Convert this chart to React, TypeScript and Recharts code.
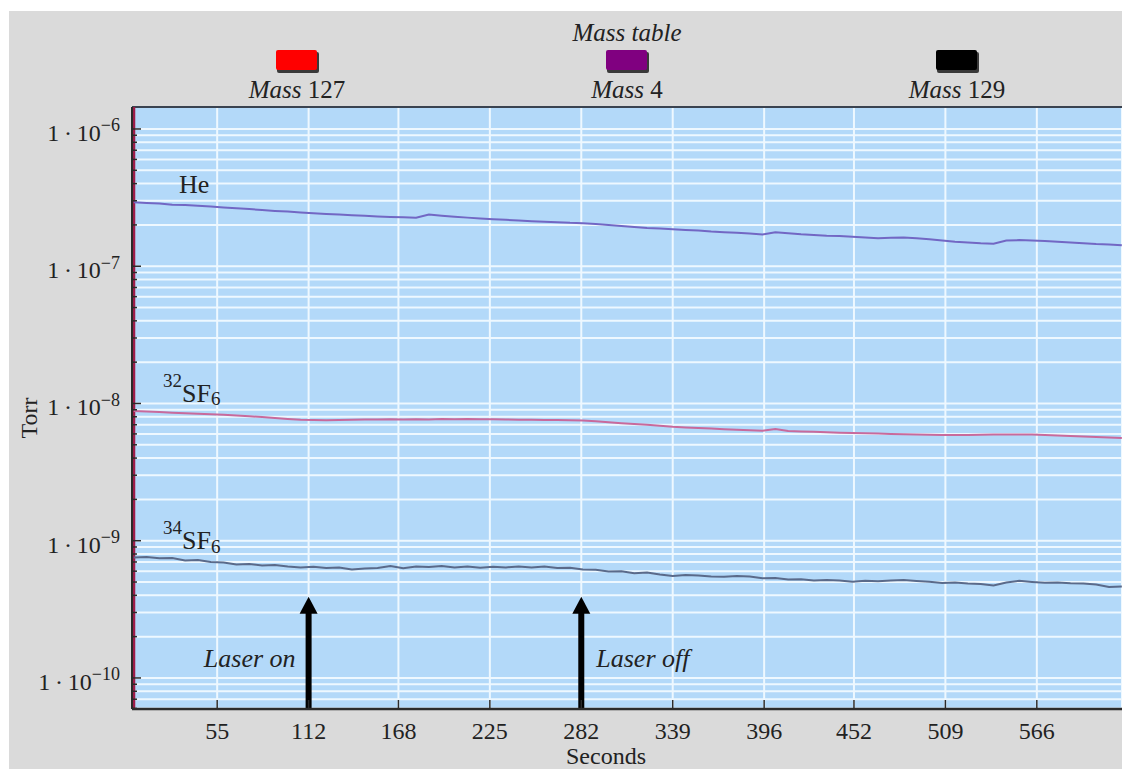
import React from 'react';
import { LineChart, Line, XAxis, YAxis, CartesianGrid, ReferenceLine, ReferenceDot } from 'recharts';

const FONT = "'Liberation Serif', 'Times New Roman', serif";
const CHART_W = 1113;
const CHART_H = 758;
const PLOT_LEFT = 123;
const PLOT_TOP = 96;
const PLOT_BOTTOM = 698;

// ---- data ----
const timeSec = [3, 11, 19, 27, 35, 43, 51, 59, 67, 75, 83, 91, 99, 107, 115, 123, 131, 139, 147, 155, 163, 171, 179, 187, 195, 203, 211, 219, 227, 235, 243, 251, 259, 267, 275, 283, 291, 299, 307, 315, 323, 331, 339, 347, 355, 363, 371, 379, 387, 395, 403, 411, 419, 427, 435, 443, 451, 459, 467, 475, 483, 491, 499, 507, 515, 523, 531, 539, 547, 555, 563, 571, 579, 587, 595, 603, 611, 619];

// Mass 4 (He)
const heTorr = [2.93e-7, 2.89e-7, 2.86e-7, 2.81e-7, 2.79e-7, 2.76e-7, 2.72e-7, 2.68e-7, 2.65e-7, 2.61e-7,
  2.57e-7, 2.53e-7, 2.50e-7, 2.46e-7, 2.43e-7, 2.40e-7, 2.38e-7, 2.35e-7, 2.33e-7, 2.30e-7,
  2.28e-7, 2.27e-7, 2.26e-7, 2.38e-7, 2.33e-7, 2.29e-7, 2.26e-7, 2.23e-7, 2.20e-7, 2.18e-7,
  2.15e-7, 2.13e-7, 2.11e-7, 2.09e-7, 2.07e-7, 2.06e-7, 2.03e-7, 2.00e-7, 1.96e-7, 1.93e-7,
  1.90e-7, 1.88e-7, 1.86e-7, 1.84e-7, 1.82e-7, 1.79e-7, 1.77e-7, 1.75e-7, 1.73e-7, 1.70e-7,
  1.77e-7, 1.74e-7, 1.71e-7, 1.69e-7, 1.67e-7, 1.66e-7, 1.64e-7, 1.62e-7, 1.60e-7, 1.61e-7,
  1.62e-7, 1.60e-7, 1.57e-7, 1.54e-7, 1.51e-7, 1.49e-7, 1.47e-7, 1.46e-7, 1.54e-7, 1.55e-7,
  1.54e-7, 1.53e-7, 1.51e-7, 1.49e-7, 1.47e-7, 1.45e-7, 1.44e-7, 1.42e-7];

// Mass 127 (32SF6)
const sf6m32Torr = [8.82e-9, 8.74e-9, 8.67e-9, 8.56e-9, 8.48e-9, 8.40e-9, 8.34e-9, 8.27e-9, 8.18e-9, 8.07e-9,
  7.96e-9, 7.84e-9, 7.72e-9, 7.62e-9, 7.57e-9, 7.54e-9, 7.58e-9, 7.61e-9, 7.64e-9, 7.64e-9,
  7.67e-9, 7.64e-9, 7.68e-9, 7.65e-9, 7.69e-9, 7.67e-9, 7.71e-9, 7.68e-9, 7.67e-9, 7.64e-9,
  7.62e-9, 7.61e-9, 7.58e-9, 7.57e-9, 7.54e-9, 7.52e-9, 7.42e-9, 7.30e-9, 7.19e-9, 7.10e-9,
  6.99e-9, 6.89e-9, 6.76e-9, 6.68e-9, 6.63e-9, 6.57e-9, 6.50e-9, 6.44e-9, 6.39e-9, 6.33e-9,
  6.52e-9, 6.30e-9, 6.25e-9, 6.21e-9, 6.17e-9, 6.13e-9, 6.10e-9, 6.06e-9, 6.03e-9, 6.00e-9,
  5.97e-9, 5.94e-9, 5.91e-9, 5.89e-9, 5.88e-9, 5.89e-9, 5.91e-9, 5.93e-9, 5.94e-9, 5.94e-9,
  5.94e-9, 5.90e-9, 5.85e-9, 5.80e-9, 5.75e-9, 5.69e-9, 5.64e-9, 5.60e-9];

// Mass 129 (34SF6)
const sf6m34Torr = [7.55e-10, 7.61e-10, 7.45e-10, 7.49e-10, 7.18e-10, 7.24e-10, 7.00e-10, 6.94e-10, 6.71e-10, 6.77e-10,
  6.60e-10, 6.66e-10, 6.49e-10, 6.39e-10, 6.47e-10, 6.33e-10, 6.39e-10, 6.17e-10, 6.28e-10, 6.33e-10,
  6.55e-10, 6.30e-10, 6.49e-10, 6.44e-10, 6.55e-10, 6.39e-10, 6.49e-10, 6.35e-10, 6.46e-10, 6.39e-10,
  6.49e-10, 6.39e-10, 6.49e-10, 6.33e-10, 6.35e-10, 6.17e-10, 6.14e-10, 5.97e-10, 6.00e-10, 5.79e-10,
  5.87e-10, 5.68e-10, 5.54e-10, 5.63e-10, 5.58e-10, 5.49e-10, 5.47e-10, 5.54e-10, 5.49e-10, 5.33e-10,
  5.35e-10, 5.22e-10, 5.24e-10, 5.13e-10, 5.18e-10, 5.13e-10, 5.03e-10, 5.11e-10, 5.06e-10, 5.13e-10,
  5.18e-10, 5.09e-10, 5.02e-10, 4.92e-10, 4.96e-10, 4.88e-10, 4.84e-10, 4.72e-10, 4.96e-10, 5.11e-10,
  5.01e-10, 4.93e-10, 4.97e-10, 4.89e-10, 4.88e-10, 4.80e-10, 4.60e-10, 4.64e-10];

const xTicks = [55, 112, 168, 225, 282, 339, 396, 452, 509, 566];
const yMajorTicks = [1e-10, 1e-9, 1e-8, 1e-7, 1e-6];
const yMinorTicks = [6e-11, 7e-11, 8e-11, 9e-11,
  2e-10, 3e-10, 4e-10, 5e-10, 6e-10, 7e-10, 8e-10, 9e-10,
  2e-9, 3e-9, 4e-9, 5e-9, 6e-9, 7e-9, 8e-9, 9e-9,
  2e-8, 3e-8, 4e-8, 5e-8, 6e-8, 7e-8, 8e-8, 9e-8,
  2e-7, 3e-7, 4e-7, 5e-7, 6e-7, 7e-7, 8e-7, 9e-7];
const xDomain = [1.9, 619.1];
const yDomain = [5.94e-11, 1.446e-6];

const legendMasses = [127, 4, 129];
const legendColors = ['#ff0000', '#800080', '#000000'];
const legendTitle = 'Mass table';

const laserOnSec = 112;
const laserOffSec = 282;
const arrowTipTorr = 3.91e-10;

const lineColors = { he: '#7267c4', s32: '#c86a9c', s34: '#5a6a8a' };

const data = timeSec.map((t, i) => ({ t, he: heTorr[i], s32: sf6m32Torr[i], s34: sf6m34Torr[i] }));
const allYTicks = [...yMinorTicks, ...yMajorTicks].sort((a, b) => a - b);

const YTick = (props: any) => {
  const { y, payload } = props;
  const v = payload.value as number;
  const major = yMajorTicks.includes(v);
  const exp = Math.round(Math.log10(v));
  return (
    <g>
      <line x1={PLOT_LEFT} x2={PLOT_LEFT + (major ? 9 : 5)} y1={y} y2={y} stroke="#2b2b2b" strokeWidth={1.5} />
      {major && (
        <text x={PLOT_LEFT - 12} y={y + 12} textAnchor="end" fontFamily={FONT} fontSize={24} fill="#222">
          {'1\u2009\u00b7\u200910'}
          <tspan fontSize={18} dy={-9.5}>{'\u2212' + Math.abs(exp)}</tspan>
        </text>
      )}
    </g>
  );
};

const XTick = (props: any) => {
  const { x, payload } = props;
  return (
    <g>
      <line x1={x} x2={x} y1={PLOT_BOTTOM} y2={PLOT_BOTTOM - 9} stroke="#2b2b2b" strokeWidth={1.5} />
      <text x={x} y={PLOT_BOTTOM + 30} textAnchor="middle" fontFamily={FONT} fontSize={24} fill="#222">
        {payload.value}
      </text>
    </g>
  );
};

const makeArrow = (label: string, side: 'left' | 'right') => (props: any) => {
  const { x1, y1, y2 } = props;
  const tip = Math.min(y1, y2);
  const base = Math.max(y1, y2);
  return (
    <g>
      <line x1={x1} x2={x1} y1={base} y2={tip + 14} stroke="#000" strokeWidth={6} />
      <polygon points={`${x1 - 9},${tip + 17} ${x1 + 9},${tip + 17} ${x1},${tip}`} fill="#000" />
      <text
        x={side === 'left' ? x1 - 13 : x1 + 15}
        y={tip + 70}
        textAnchor={side === 'left' ? 'end' : 'start'}
        fontFamily={FONT}
        fontSize={26}
        fontStyle="italic"
        fill="#222"
      >
        {label}
      </text>
    </g>
  );
};

const isoLabel = (mass: string, dx: number, dy: number) => (props: any) => {
  const { cx, cy } = props;
  return (
    <text x={cx + dx} y={cy + dy} fontFamily={FONT} fontSize={26} fill="#222">
      <tspan fontSize={19} dy={-15}>{mass}</tspan>
      <tspan dy={15}>SF</tspan>
      <tspan fontSize={19} dy={3.5}>6</tspan>
    </text>
  );
};

const heLabel = (props: any) => {
  const { cx, cy } = props;
  return (
    <text x={cx + 6.7} y={cy - 11.4} fontFamily={FONT} fontSize={26} fill="#222">He</text>
  );
};

export default function App() {
  const centers = [0, 1, 2].map((i) => PLOT_LEFT + ((CHART_W - PLOT_LEFT) * (2 * i + 1)) / 6);
  return (
    <div
      style={{
        position: 'absolute',
        left: 9,
        top: 11,
        width: CHART_W,
        height: CHART_H,
        background: '#dadada',
        overflow: 'hidden',
      }}
    >
      <LineChart width={CHART_W} height={CHART_H} data={data} margin={{ top: PLOT_TOP, right: 0, bottom: 0, left: 0 }}>
        <CartesianGrid fill="#b3d9f9" fillOpacity={1} stroke="#eef8ff" strokeWidth={2} />
        <XAxis
          dataKey="t"
          type="number"
          domain={xDomain}
          allowDataOverflow
          ticks={xTicks}
          interval={0}
          tick={XTick}
          tickLine={false}
          axisLine={{ stroke: '#2b2b2b', strokeWidth: 2.5 }}
          height={CHART_H - PLOT_BOTTOM}
          label={() => (
            <text x={597} y={753} textAnchor="middle" fontFamily={FONT} fontSize={24} fill="#222">
              Seconds
            </text>
          )}
        />
        <YAxis
          type="number"
          scale="log"
          domain={yDomain}
          allowDataOverflow
          ticks={allYTicks}
          interval={0}
          tick={YTick}
          tickLine={false}
          axisLine={{ stroke: '#2b2b2b', strokeWidth: 2 }}
          width={PLOT_LEFT}
          label={() => (
            <text
              x={20}
              y={407}
              transform="rotate(-90 20 407)"
              textAnchor="middle"
              dominantBaseline="central"
              fontFamily={FONT}
              fontSize={24}
              fill="#222"
            >
              Torr
            </text>
          )}
        />
        <ReferenceLine y={yDomain[1]} stroke="#3a4350" strokeWidth={2} ifOverflow="visible" />
        <ReferenceLine x={timeSec[0]} stroke="#9c1c48" strokeWidth={3} ifOverflow="visible" />
        <Line dataKey="he" stroke={lineColors.he} strokeWidth={2} dot={false} isAnimationActive={false} />
        <Line dataKey="s32" stroke={lineColors.s32} strokeWidth={2} dot={false} isAnimationActive={false} />
        <Line dataKey="s34" stroke={lineColors.s34} strokeWidth={2} dot={false} isAnimationActive={false} />
        <ReferenceLine
          segment={[{ x: laserOnSec, y: yDomain[0] }, { x: laserOnSec, y: arrowTipTorr }]}
          ifOverflow="visible"
          shape={makeArrow('Laser on', 'left')}
        />
        <ReferenceLine
          segment={[{ x: laserOffSec, y: yDomain[0] }, { x: laserOffSec, y: arrowTipTorr }]}
          ifOverflow="visible"
          shape={makeArrow('Laser off', 'right')}
        />
        <ReferenceDot x={timeSec[3]} y={heTorr[3]} r={0} shape={heLabel} />
        <ReferenceDot x={timeSec[3]} y={sf6m32Torr[3]} r={0} shape={isoLabel('32', -9.3, -11.2)} />
        <ReferenceDot x={timeSec[3]} y={sf6m34Torr[3]} r={0} shape={isoLabel('34', -9.3, -8.7)} />
      </LineChart>
      <svg
        style={{ position: 'absolute', left: 0, top: 0, pointerEvents: 'none' }}
        width={CHART_W}
        height={100}
      >
        <text x={centers[1]} y={30} textAnchor="middle" fontFamily={FONT} fontSize={25} fontStyle="italic" fill="#222">
          {legendTitle}
        </text>
        {legendMasses.map((m, i) => (
          <g key={m}>
            <rect x={centers[i] - 20} y={41} width={42} height={21} rx={2} fill="#3a3a3a" />
            <rect x={centers[i] - 21} y={39} width={41} height={20} rx={2} fill={legendColors[i]} />
            <text x={centers[i]} y={87} textAnchor="middle" fontFamily={FONT} fontSize={25} fill="#222">
              <tspan fontStyle="italic">Mass</tspan>
              {' ' + m}
            </text>
          </g>
        ))}
      </svg>
    </div>
  );
}
